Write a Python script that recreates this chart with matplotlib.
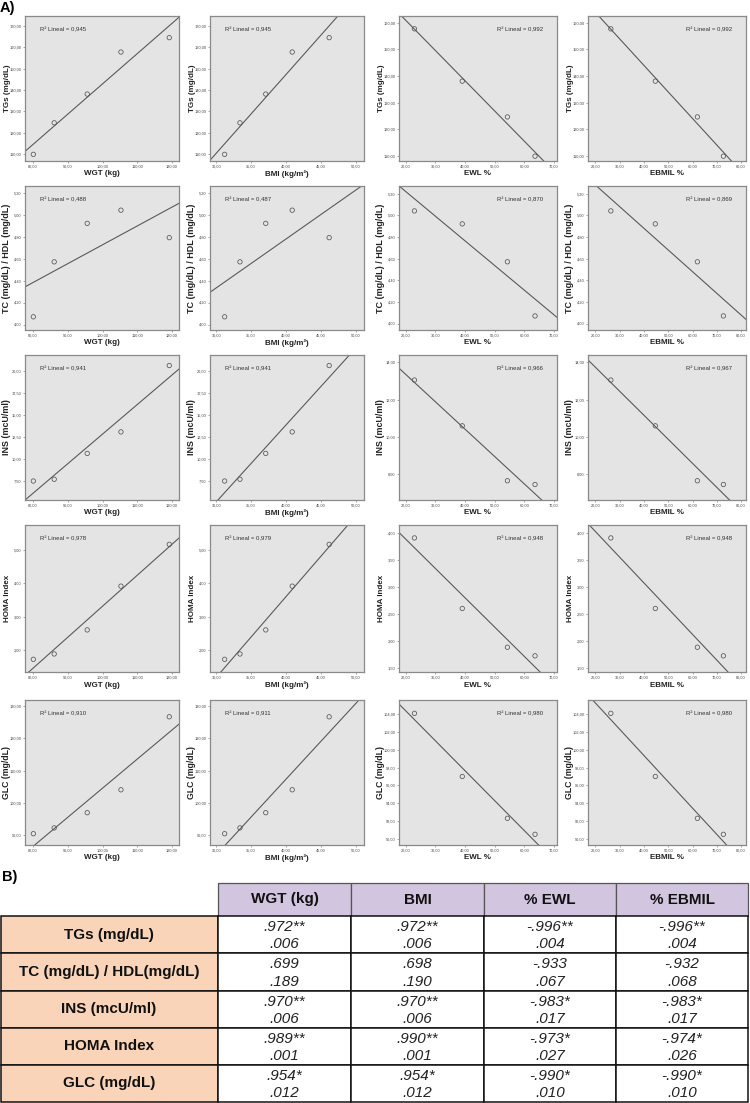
import numpy as np
import matplotlib
matplotlib.use("Agg")
import matplotlib.pyplot as plt
from matplotlib.patches import Rectangle

plt.rcParams['font.family'] = ['Liberation Sans', 'DejaVu Sans']

# ---------------- data (per visit) ----------------
wgt = [119.2, 105.3, 95.6, 86.1, 80.1]
bmi = [46.2, 40.9, 37.1, 33.4, 31.2]
ewl = [23.0, 39.1, 54.3, 63.6]      # visits 2-5
ebmil = [26.4, 44.7, 62.0, 72.7]    # visits 2-5

tgs = [164.4, 157.7, 138.1, 124.7, 110.0]
tc_hdl = [4.79, 5.04, 4.92, 4.57, 4.07]
ins = [20.6, 13.05, 10.6, 7.66, 7.46]
homa = [5.16, 3.91, 2.60, 1.88, 1.72]
glc = [126.7, 104.1, 97.0, 92.3, 90.5]

x_labels = ["WGT (kg)", "BMI (kg/m²)", "EWL %", "EBMIL %"]
y_labels = ["TGs (mg/dL)", "TC (mg/dL) / HDL (mg/dL)", "INS (mcU/ml)", "HOMA Index", "GLC (mg/dL)"]

r2_text = [["0,945", "0,945", "0,992", "0,992"],
           ["0,488", "0,487", "0,870", "0,869"],
           ["0,941", "0,941", "0,966", "0,967"],
           ["0,978", "0,979", "0,948", "0,948"],
           ["0,910", "0,911", "0,980", "0,980"]]

x_ticks = [[80, 90, 100, 110, 120], [30, 35, 40, 45, 50],
           [20, 30, 40, 50, 60, 70], [20, 30, 40, 50, 60, 70, 80]]
x_lims = [(77.7, 122.0), (29.1, 51.2), (17.8, 71.0), (17.0, 82.0)]

# y ticks / limits: (positive-columns, negative-columns)
y_ticks = [([110, 120, 130, 140, 150, 160, 170], [110, 120, 130, 140, 150, 160]),
           ([4.0, 4.2, 4.4, 4.6, 4.8, 5.0, 5.2], [4.0, 4.2, 4.4, 4.6, 4.8, 5.0, 5.2]),
           ([7.5, 10, 12.5, 15, 17.5, 20], [8, 10, 12, 14]),
           ([2, 3, 4, 5], [1.5, 2.0, 2.5, 3.0, 3.5, 4.0]),
           ([90, 100, 110, 120, 130], [90, 92, 94, 96, 98, 100, 102, 104])]
y_lims = [((106.9, 174.5), (108.2, 162.5)),
          ((3.95, 5.26), (3.94, 5.27)),
          ((5.3, 21.8), (6.63, 14.39)),
          ((1.34, 5.74), (1.42, 4.15)),
          ((87.0, 131.9), (89.3, 105.6))]
ylabel_sizes = [5.8, 6.5, 6.4, 5.8, 6.3]

# table data
tab_cols = ["WGT (kg)", "BMI", "% EWL", "% EBMIL"]
tab_rows = ["TGs (mg/dL)", "TC (mg/dL) / HDL(mg/dL)", "INS (mcU/ml)", "HOMA Index", "GLC (mg/dL)"]
tab_r = [[".972**", ".972**", "-.996**", "-.996**"],
         [".699", ".698", "-.933", "-.932"],
         [".970**", ".970**", "-.983*", "-.983*"],
         [".989**", ".990**", "-.973*", "-.974*"],
         [".954*", ".954*", "-.990*", "-.990*"]]
tab_p = [[".006", ".006", ".004", ".004"],
         [".189", ".190", ".067", ".068"],
         [".006", ".006", ".017", ".017"],
         [".001", ".001", ".027", ".026"],
         [".012", ".012", ".010", ".010"]]

# ---------------- figure ----------------
W, H = 750, 1103
fig = plt.figure(figsize=(W / 100, H / 100), dpi=100)

cols_px = [(25, 179), (210, 364), (399, 557), (588, 746)]
rows_px = [(16, 161), (186, 330), (355, 500), (525, 672), (700, 845)]

xs = [wgt, bmi, ewl, ebmil]
ys = [tgs, tc_hdl, ins, homa, glc]

def fmt(v):
    return f"{v:.2f}".replace('.', ',')

for ri, (t, b) in enumerate(rows_px):
    for ci, (l, r) in enumerate(cols_px):
        ax = fig.add_axes([l / W, 1 - b / H, (r - l) / W, (b - t) / H])
        ax.set_facecolor('#e4e4e4')
        x = np.array(xs[ci], dtype=float)
        y = np.array(ys[ri], dtype=float)
        if ci >= 2:
            y = y[1:]
        neg = 1 if ci >= 2 else 0
        ax.set_xlim(*x_lims[ci])
        ax.set_ylim(*y_lims[ri][neg])
        m, c0 = np.polyfit(x, y, 1)
        ax.axline((x.mean(), m * x.mean() + c0), slope=m, color='#5a5a5a', lw=0.8, zorder=2)
        ax.scatter(x, y, s=10, facecolor='none', edgecolor='#555555', linewidths=0.55, zorder=3)
        ax.set_xticks(x_ticks[ci])
        ax.set_xticklabels([fmt(v) for v in x_ticks[ci]])
        yt = y_ticks[ri][neg]
        ax.set_yticks(yt)
        ax.set_yticklabels([fmt(v) for v in yt])
        ax.tick_params(length=1.6, width=0.4, color='#666666', labelsize=2.8,
                       labelcolor='#444444', pad=1.0)
        for sp in ax.spines.values():
            sp.set_color('#8a8a8a')
            sp.set_linewidth(0.9)
        ax.set_xlabel(x_labels[ci], fontsize=5.8, fontweight='bold', color='#222222')
        ax.xaxis.set_label_coords(0.5, -0.065)
        ax.set_ylabel(y_labels[ri], fontsize=ylabel_sizes[ri], fontweight='bold', color='#222222')
        ax.yaxis.set_label_coords(-0.09, 0.5)
        txt = "R² Lineal = " + r2_text[ri][ci]
        if ci < 2:
            ax.text(0.095, 0.905, txt, transform=ax.transAxes, fontsize=4.3,
                    ha='left', va='center', color='#333333')
        else:
            ax.text(0.91, 0.905, txt, transform=ax.transAxes, fontsize=4.3,
                    ha='right', va='center', color='#333333')

# ---------------- overlay for labels and table ----------------
ov = fig.add_axes([0, 0, 1, 1], zorder=-1)
ov.set_xlim(0, W)
ov.set_ylim(H, 0)
ov.axis('off')

ov.text(0, 8, "A)", fontsize=10.5, fontweight='bold', ha='left', va='center')
ov.text(2, 877, "B)", fontsize=10.5, fontweight='bold', ha='left', va='center')

col_edges = [0, 218, 351, 484, 616, 748]
row_edges = [883, 916, 953, 991, 1028, 1065, 1102]
peach = '#f9d4b8'
lav = '#d2c5df'

# header
for j, name in enumerate(tab_cols):
    x0, x1 = col_edges[j + 1], col_edges[j + 2]
    ov.add_patch(Rectangle((x0, row_edges[0]), x1 - x0, row_edges[1] - row_edges[0],
                           facecolor=lav, edgecolor='#555555', lw=0.9))
    ov.text((x0 + x1) / 2, (row_edges[0] + row_edges[1]) / 2, name, fontsize=11,
            fontweight='bold', ha='center', va='center', color='#111111')

for i, rname in enumerate(tab_rows):
    y0, y1 = row_edges[i + 1], row_edges[i + 2]
    ov.add_patch(Rectangle((col_edges[0] + 0.5, y0), col_edges[1] - col_edges[0] - 0.5, y1 - y0,
                           facecolor=peach, edgecolor='#111111', lw=1.1))
    ov.text((col_edges[0] + col_edges[1]) / 2, (y0 + y1) / 2, rname, fontsize=11,
            fontweight='bold', ha='center', va='center', color='#111111')
    for j in range(4):
        x0, x1 = col_edges[j + 1], col_edges[j + 2]
        ov.add_patch(Rectangle((x0, y0), x1 - x0, y1 - y0, facecolor='white',
                               edgecolor='#111111', lw=1.1))
        ov.text((x0 + x1) / 2, y0 + 0.29 * (y1 - y0), tab_r[i][j], fontsize=11,
                style='italic', ha='center', va='center', color='#222222')
        ov.text((x0 + x1) / 2, y0 + 0.76 * (y1 - y0), tab_p[i][j], fontsize=11,
                style='italic', ha='center', va='center', color='#222222')

fig.savefig("out.png", dpi=100)
